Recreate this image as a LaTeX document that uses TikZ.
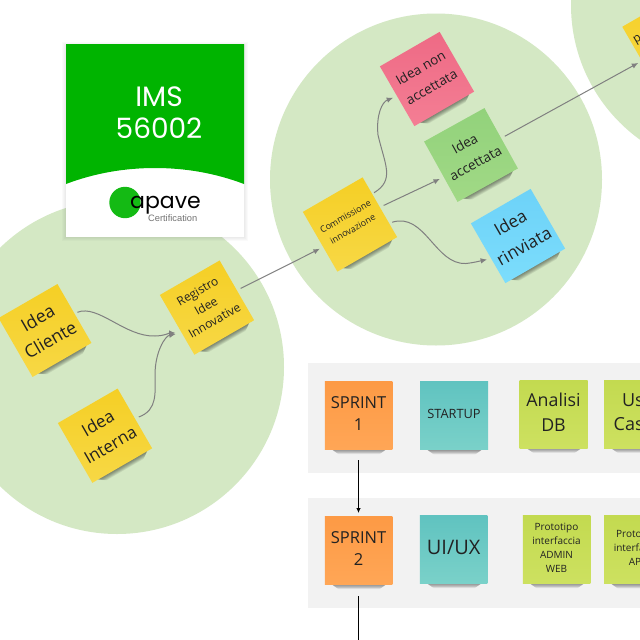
\documentclass[tikz,border=0pt]{standalone}
\usepackage{fontspec}
\setmainfont{Open Sans}
\newfontfamily\logofont{Poppins}
\newfontfamily\arialfont{Liberation Sans}
\usetikzlibrary{arrows.meta}
\definecolor{disc}{HTML}{D4E8C4}
\definecolor{band}{HTML}{F2F2F2}
\definecolor{cardgreen}{HTML}{00B400}
\definecolor{ink}{HTML}{222222}
\definecolor{wire}{HTML}{808080}
\definecolor{yelA}{HTML}{F5CF25}\definecolor{yelB}{HTML}{F7D845}
\definecolor{rosA}{HTML}{EE6A85}\definecolor{rosB}{HTML}{F47E94}
\definecolor{greA}{HTML}{92D27B}\definecolor{greB}{HTML}{A1D986}
\definecolor{bluA}{HTML}{6DD2F8}\definecolor{bluB}{HTML}{7CDDFC}
\definecolor{oraA}{HTML}{FD9A45}\definecolor{oraB}{HTML}{FFA656}
\definecolor{teaA}{HTML}{60C3C0}\definecolor{teaB}{HTML}{7AD1C9}
\definecolor{limA}{HTML}{C3DA50}\definecolor{limB}{HTML}{CDE160}
\tikzset{
  stickerbox/.style={inner sep=0pt,align=center,text=ink,shading=axis},
  yel/.style={top color=yelA,bottom color=yelB},
  ros/.style={top color=rosA,bottom color=rosB},
  gre/.style={top color=greA,bottom color=greB},
  blu/.style={top color=bluA,bottom color=bluB},
  ora/.style={top color=oraA,bottom color=oraB},
  tea/.style={top color=teaA,bottom color=teaB},
  lim/.style={top color=limA,bottom color=limB},
  conn/.style={draw=wire,line width=1pt,-{Latex[length=6.5pt,width=5.5pt]}},
  flow/.style={draw=black,line width=1pt,-{Latex[length=5pt,width=4.5pt]}},
  disca/.style={fill=disc,draw=none}
}
% name, position, angle, size, colour style, font size, leading, text
\newcommand{\stk}[8]{%
  \begin{scope}[shift={(#2)},rotate=#3]
    \foreach \d in {0.7,1.4,2.1,2.8,3.5,4.2,4.9}{
      \fill[black,opacity=0.07] (-#4/2+6,#4/2-1) -- (#4/2-5,#4/2-1) -- (#4/2-5-1.6*\d,#4/2+\d) -- (-#4/2+6+1.6*\d,#4/2+\d) -- cycle;
    }
  \end{scope}
  \node[stickerbox,#5,rotate=#3,minimum width=#4pt,minimum height=#4pt,
        font=\fontsize{#6}{#7}\selectfont] (#1) at (#2) {#8\rule[-4pt]{0pt}{0pt}};
}
\begin{document}
\begin{tikzpicture}[x=1pt,y=-1pt]
\useasboundingbox (0,0) rectangle (640,640);
\clip (0,0) rectangle (640,640);
\fill[white] (0,0) rectangle (640,640);
% discs
\fill[disca] (117,367) circle[radius=167pt];
\fill[disca] (436,179.5) circle[radius=166pt];
\fill[disca] (737,5) circle[radius=166pt];
% bands
\fill[band] (308,363) rectangle (640,473);
\fill[band] (308,498) rectangle (640,608);
% card
\foreach \d in {1,2,3,4}{\fill[black,opacity=0.02] (66-\d,44-\d+2) rectangle (244+\d,237+\d);}
\fill[white] (66,44) rectangle (244,237);
\fill[cardgreen] (66,44) -- (244,44) -- (244,184) .. controls (215,173) and (185,168) .. (155,168) .. controls (125,168) and (95,173) .. (66,184) -- cycle;
\node[text=white,align=center,font=\logofont\fontsize{28}{32}\selectfont] (cardtitle) at (159,113) {IMS\\56002};
\fill[cardgreen!92!white] (125,202.5) circle[radius=15.7pt];
\node[anchor=base west,inner sep=0pt,text=black,font=\logofont\fontsize{22}{24}\selectfont] (apave) at (130,208) {apave};
\node[text=black!55,inner sep=0pt,font=\arialfont\fontsize{9.3}{11}\selectfont] (certif) at (172.7,218) {Certification};
% stickers
\stk{ic}{45,330.5}{30}{68}{yel}{17.7}{25}{Idea\\Cliente}
\stk{ii}{105,435.7}{30}{69}{yel}{17}{25}{Idea\\Interna}
\stk{reg}{207,307.6}{30}{69}{yel}{12}{17}{Registro\\Idee\\Innovative}
\stk{com}{350,224.5}{30}{69}{yel}{9}{14.5}{Commissione\\innovazione}
\stk{non}{427,79}{30}{69}{ros}{13.4}{22}{Idea non\\accettata}
\stk{acc}{471,155}{29}{69}{gre}{13.5}{22}{Idea\\accettata}
\stk{rin}{518,236}{30}{69}{blu}{17.2}{27}{Idea\\rinviata}
\stk{far}{669.4,39.4}{30}{69}{yel}{12}{17}{}
\node[rotate=30,text=ink,inner sep=0pt,font=\fontsize{12}{14}\selectfont] (fartext) at (638,40) {p};
\stk{s1}{358.5,415.5}{0}{67.5}{ora}{16.5}{22.5}{SPRINT\\1}
\stk{st}{454,415.5}{0}{68}{tea}{12.8}{16}{STARTUP}
\stk{an}{553.5,414}{0}{68}{lim}{17.8}{24.5}{Analisi\\DB}
\stk{uc}{638,414}{0}{68}{lim}{18}{24.5}{Use\\Cases}
\stk{s2}{358.5,550.5}{0}{67.5}{ora}{16.5}{22.5}{SPRINT\\2}
\stk{ux}{453.7,549.5}{0}{67.5}{tea}{20}{24}{UI/UX}
\stk{pa}{556.5,549.5}{0}{67.5}{lim}{10}{14}{Prototipo\\interfaccia\\ADMIN\\WEB}
\stk{pb}{638,549.5}{0}{68}{lim}{10}{14}{Prototipo\\interfaccia\\APP}
% connectors
\coordinate (down) at (358.5,650);
\draw[conn,shorten <=3pt,shorten >=6pt] (ic.east) .. controls (98,304) and (125,337) .. (155,336) .. controls (163,336) and (170,333) .. (reg.195);
\draw[conn,shorten <=4pt,shorten >=6pt] (ii.east) .. controls (158,410) and (155,392) .. (155,375) .. controls (155,352) and (165,336) .. (reg.195);
\draw[conn,shorten <=4pt,shorten >=3.5pt] (reg.east) -- (com.190);
\draw[conn,shorten <=2pt,shorten >=4pt] (com.24) .. controls (395,180) and (385,165) .. (378,135) .. controls (376,115) and (382,102) .. (non.west);
\draw[conn,shorten <=4pt,shorten >=4pt] (com.east) -- (acc.190);
\draw[conn,shorten <=3pt,shorten >=4pt] (com.-28) .. controls (425,212) and (435,265) .. (466,263.5) .. controls (472,263) and (480,261) .. (rin.190);
\draw[conn,shorten <=4pt,shorten >=4pt] (acc.east) -- (far.188);
\draw[flow,shorten <=11pt,shorten >=3.5pt] (s1.south) -- (s2.north);
\draw[draw=black,line width=1pt,shorten <=12pt] (s2.south) -- (down);
\end{tikzpicture}
\end{document}
